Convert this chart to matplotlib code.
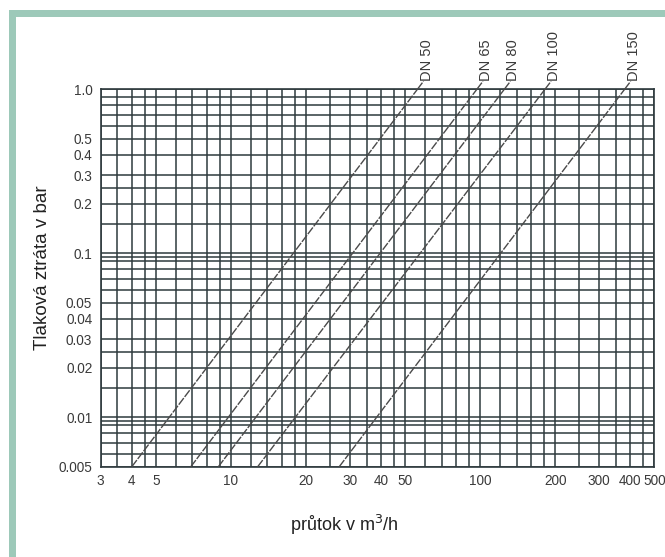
import matplotlib
matplotlib.use("Agg")
import matplotlib.pyplot as plt
import numpy as np
from matplotlib.patches import Rectangle
from matplotlib.ticker import NullLocator, FixedLocator, FixedFormatter
import matplotlib.transforms as mtransforms

plt.rcParams['font.family'] = ['Liberation Sans', 'DejaVu Sans']

# ---- data ----
dn_labels = ['DN 50', 'DN 65', 'DN 80', 'DN 100', 'DN 150']
flow_at_low_dp = [4.0, 6.9, 8.9, 12.8, 27.2]     # m3/h at 0.005 bar
flow_at_1bar = [56, 97, 125, 182, 380]           # m3/h at 1.0 bar
low_dp = 0.005
high_dp = 1.0

x_ticks = [3, 4, 5, 10, 20, 30, 40, 50, 100, 200, 300, 400, 500]
x_tick_labels = ['3', '4', '5', '10', '20', '30', '40', '50', '100', '200', '300', '400', '500']
y_ticks = [1.0, 0.5, 0.4, 0.3, 0.2, 0.1, 0.05, 0.04, 0.03, 0.02, 0.01, 0.005]
y_tick_labels = ['1.0', '0.5', '0.4', '0.3', '0.2', '0.1', '0.05', '0.04', '0.03', '0.02', '0.01', '0.005']

x_grid = [3, 3.5, 4, 4.5, 5, 6, 7, 8, 9, 10, 12, 14, 16, 18, 20, 25, 30, 35, 40, 45,
          50, 60, 70, 80, 90, 100, 120, 140, 160, 180, 200, 250, 300, 350, 400, 450, 500]
y_grid = [1.0, 0.9, 0.8, 0.7, 0.6, 0.5, 0.4, 0.3, 0.25, 0.2, 0.15, 0.1, 0.095, 0.09,
          0.08, 0.07, 0.06, 0.05, 0.04, 0.03, 0.025, 0.02, 0.015, 0.01, 0.0095, 0.009,
          0.008, 0.007, 0.006, 0.005]

W, H = 665, 557
fig = plt.figure(figsize=(W / 100, H / 100), dpi=100)
fig.patch.set_facecolor('white')

# green frame (left and top bands)
green = '#9dc9b9'
fig.add_artist(Rectangle((8.5 / W, 0), 7.5 / W, (H - 10) / H, transform=fig.transFigure,
                         facecolor=green, edgecolor='none'))
fig.add_artist(Rectangle((8.5 / W, (H - 16.7) / H), (W - 8.5) / W, 6.7 / H,
                         transform=fig.transFigure, facecolor=green, edgecolor='none'))

ax = fig.add_axes([100.7 / W, (H - 466.7) / H, 553.6 / W, 377.4 / H])
ax.set_xscale('log')
ax.set_yscale('log')
ax.set_xlim(3, 500)
ax.set_ylim(0.005, 1.0)

gc = '#2e3a3d'
for xv in x_grid:
    ax.axvline(xv, color=gc, lw=1.1, zorder=1)
for yv in y_grid:
    ax.axhline(yv, color=gc, lw=1.1, zorder=1)
for s in ax.spines.values():
    s.set_color(gc)
    s.set_linewidth(1.2)

ax.xaxis.set_major_locator(FixedLocator(x_ticks))
ax.xaxis.set_major_formatter(FixedFormatter(x_tick_labels))
ax.yaxis.set_major_locator(FixedLocator(y_ticks))
ax.yaxis.set_major_formatter(FixedFormatter(y_tick_labels))
ax.xaxis.set_minor_locator(NullLocator())
ax.yaxis.set_minor_locator(NullLocator())
ax.tick_params(axis='both', length=0, labelsize=9.8, labelcolor='#3a3a3a')
ax.tick_params(axis='x', pad=5)
ax.tick_params(axis='y', pad=6)

# pressure-drop lines
top_ext = 1.12
for lab, q0, q1 in zip(dn_labels, flow_at_low_dp, flow_at_1bar):
    ax.plot([q0, q1], [low_dp, high_dp], color='#4a4a4a', lw=1.0,
            linestyle=(0, (6, 1)), zorder=3)
    slope = (np.log10(high_dp) - np.log10(low_dp)) / (np.log10(q1) - np.log10(q0))
    qe = q1 * top_ext ** (1 / slope)
    ax.plot([q1, qe], [high_dp, top_ext], color='#4a4a4a', lw=1.0,
            linestyle=(0, (6, 1)), zorder=3, clip_on=False)
    trans = ax.transData + mtransforms.ScaledTranslation(3 / 100, 0, fig.dpi_scale_trans)
    ax.text(qe, top_ext, lab, rotation=90, ha='center', va='bottom', fontsize=10.5,
            color='#3a3a3a', transform=trans, clip_on=False)

fig.text(344 / W, 1 - 525 / H, 'průtok v m$^3$/h', ha='center', va='center',
         fontsize=13, color='#222222')
fig.text(43 / W, 1 - 268 / H, 'Tlaková ztráta v bar', ha='center', va='center',
         rotation=90, fontsize=13.5, color='#222222')

fig.savefig('out.png', dpi=100)
